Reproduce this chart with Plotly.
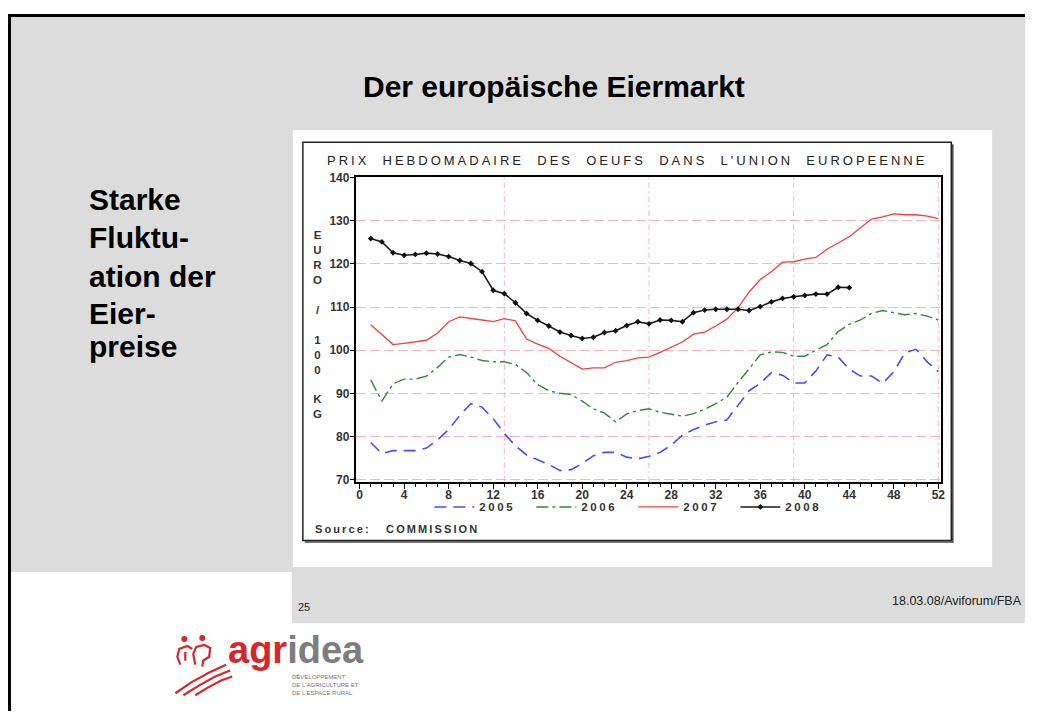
import plotly.graph_objects as go

# weekly egg prices, EUR / 100 kg
weeks = list(range(1, 53))
weeks_2008 = list(range(1, 45))

price_2005 = [78.6, 76.0, 76.7, 76.7, 76.7, 77.3, 79.2, 81.6, 84.9, 87.6,
              86.8, 84.1, 80.7, 77.8, 75.7, 74.6, 73.5, 72.1, 72.3, 73.7,
              75.5, 76.3, 76.3, 75.2, 74.8, 75.4, 76.3, 78.0, 80.3, 81.6,
              82.6, 83.4, 83.8, 87.2, 90.6, 92.3, 94.8, 94.2, 92.4, 92.4,
              95.2, 98.9, 98.4, 95.6, 94.0, 94.0, 92.3, 95.0, 99.4, 100.2,
              97.3, 95.0]
price_2006 = [93.1, 88.2, 92.2, 93.3, 93.3, 94.0, 96.0, 98.4, 99.0, 98.4,
              97.6, 97.3, 97.3, 96.7, 94.8, 92.0, 90.6, 90.0, 89.7, 88.2,
              86.4, 85.4, 83.4, 85.2, 86.0, 86.4, 85.6, 85.1, 84.7, 85.3,
              86.3, 87.6, 89.1, 92.5, 95.6, 98.9, 99.6, 99.5, 98.6, 98.6,
              100.0, 101.3, 104.3, 106.0, 107.0, 108.5, 109.2, 108.7, 108.2, 108.5,
              107.9, 107.0]
price_2007 = [105.9, 103.6, 101.3, 101.6, 101.9, 102.3, 104.0, 106.6, 107.7, 107.4,
              107.0, 106.6, 107.3, 106.8, 102.6, 101.4, 100.4, 98.6, 97.0, 95.6,
              95.9, 95.9, 97.2, 97.6, 98.2, 98.4, 99.5, 100.7, 101.9, 103.7,
              104.2, 105.6, 107.2, 109.8, 113.5, 116.4, 118.2, 120.4, 120.5, 121.1,
              121.5, 123.4, 124.9, 126.3, 128.4, 130.4, 130.9, 131.6, 131.4, 131.4,
              131.1, 130.5]
price_2008 = [125.9, 125.1, 122.6, 122.0, 122.2, 122.5, 122.3, 121.7, 120.8, 120.1,
              118.2, 113.9, 113.1, 111.0, 108.5, 106.9, 105.6, 104.2, 103.4, 102.7,
              103.0, 104.1, 104.5, 105.7, 106.6, 106.1, 107.0, 106.9, 106.6, 108.7,
              109.3, 109.5, 109.5, 109.5, 109.2, 110.1, 111.2, 112.0, 112.4, 112.7,
              113.0, 113.0, 114.6, 114.5]

quarter_weeks = [13, 26, 39, 52]
x_ticks = list(range(0, 53, 4))
y_ticks = list(range(70, 141, 10))

# the page has an 8px body margin; keep figure + margins inside the window
OFF = 8
W, H = 1037 - 2 * OFF, 723 - 2 * OFF
FONT = "Liberation Sans, Arial, sans-serif"
PINK = "#ffb3c0"


def fx(px):
    return (px - OFF) / W


def fy(py):
    return 1 - (py - OFF) / H


def spaced(text, gap=2):
    return f"<span style='letter-spacing:{gap}px'>{text}</span>"


fig = go.Figure()

fig.add_trace(go.Scatter(
    x=weeks, y=price_2005, name=spaced("2005", 2.6), mode="lines",
    line=dict(color="#4a4aff", width=1.6, dash="12px,7px")
))
fig.add_trace(go.Scatter(
    x=weeks, y=price_2006, name=spaced("2006", 2.6), mode="lines",
    line=dict(color="#2e8b35", width=1.4, dash="12px,4px,3px,4px")
))
fig.add_trace(go.Scatter(
    x=weeks, y=price_2007, name=spaced("2007", 2.6), mode="lines",
    line=dict(color="#ff3b3b", width=1.3)
))
fig.add_trace(go.Scatter(
    x=weeks_2008, y=price_2008, name=spaced("2008", 2.6), mode="lines+markers",
    line=dict(color="#1a1a1a", width=1.6),
    marker=dict(symbol="diamond", size=4.5, color="#111111")
))

shapes = [
    # grey slide background
    dict(type="rect", xref="paper", yref="paper", x0=fx(9), x1=1, y0=fy(574), y1=1,
         fillcolor="#dcdcdc", line_width=0, layer="below"),
    dict(type="rect", xref="paper", yref="paper", x0=fx(293), x1=1, y0=fy(626), y1=fy(574),
         fillcolor="#dcdcdc", line_width=0, layer="below"),
    # white picture area
    dict(type="rect", xref="paper", yref="paper", x0=fx(294), x1=fx(996), y0=fy(569), y1=fy(126),
         fillcolor="white", line_width=0, layer="below"),
    # chart frame with shadow
    dict(type="rect", xref="paper", yref="paper", x0=fx(304), x1=fx(955), y0=fy(542), y1=fy(138),
         line=dict(color="#222222", width=1.5), layer="below"),
    dict(type="line", xref="paper", yref="paper", x0=fx(956.5), x1=fx(956.5), y0=fy(140), y1=fy(544),
         line=dict(color="#444444", width=1.5), layer="below"),
    dict(type="line", xref="paper", yref="paper", x0=fx(306), x1=fx(957), y0=fy(543.5), y1=fy(543.5),
         line=dict(color="#444444", width=1.5), layer="below"),
    # slide border
    dict(type="line", xref="paper", yref="paper", x0=fx(9.5), x1=fx(9.5), y0=0, y1=1,
         line=dict(color="black", width=3)),
    dict(type="line", xref="paper", yref="paper", x0=fx(8), x1=1, y0=fy(9.5), y1=fy(9.5),
         line=dict(color="black", width=3)),
]

# quarter separators
for q in quarter_weeks:
    shapes.append(dict(type="line", xref="x", yref="y domain", x0=q, x1=q, y0=0, y1=1,
                       line=dict(color=PINK, width=1, dash="6px,3px,2px,3px"), layer="below"))

# agridea logo mark
RED = "#d7262b"


def path(points):
    return "M " + " L ".join(f"{fx(a):.5f},{fy(b):.5f}" for a, b in points)


logo_strokes = [
    [(176, 697), (192, 686), (210, 676), (227, 668)],
    [(184, 699), (200, 689), (216, 680), (231, 674)],
    [(196, 699), (209, 691), (222, 684), (233, 680)],
    [(181, 668), (178, 660), (180, 652), (188, 649), (193, 652)],
    [(196, 668), (194, 657), (197, 650), (205, 648), (211, 651), (210, 660), (204, 664), (203, 670)],
    [(186, 655), (186, 664)],
]
for pts in logo_strokes:
    shapes.append(dict(type="path", xref="paper", yref="paper", path=path(pts),
                       line=dict(color=RED, width=2.2)))
for cx, cy in [(185, 642), (203, 641)]:
    shapes.append(dict(type="circle", xref="paper", yref="paper",
                       x0=fx(cx - 3), x1=fx(cx + 3), y0=fy(cy + 3), y1=fy(cy - 3),
                       fillcolor=RED, line_width=0))

annotations = [
    dict(text="<b>Der europäische Eiermarkt</b>", x=fx(556), y=fy(82),
         font=dict(size=30, color="black")),
    dict(text=spaced("PRIX  HEBDOMADAIRE  DES  OEUFS  DANS  L'UNION  EUROPEENNE", 3.0),
         x=fx(629), y=fy(157), font=dict(size=13, color="#222222")),
    dict(text="<b>E<br>U<br>R<br>O<br> <br>/<br> <br>1<br>0<br>0<br> <br>K<br>G</b>",
         x=fx(312), y=fy(323), font=dict(size=11.5, color="#333333")),
    dict(text=spaced("<b>Source:   COMMISSION</b>", 2.1), x=fx(314), y=fy(530), xanchor="left",
         font=dict(size=11, color="#333333")),
    dict(text="25", x=fx(297), y=fy(610), xanchor="left", font=dict(size=11, color="#222222")),
    dict(text="18.03.08/Aviforum/FBA", x=fx(1028), y=fy(603), xanchor="right",
         font=dict(size=12.5, color="#222222")),
    dict(text=f"<b><span style='color:{RED}'>agr</span><span style='color:#7d7d7d'>idea</span></b>",
         x=fx(227), y=fy(667), xanchor="left", yanchor="bottom", yshift=-9,
         font=dict(size=38)),
    dict(text="DÉVELOPPEMENT<br>DE L'AGRICULTURE ET<br>DE L'ESPACE RURAL", x=fx(291), y=fy(689),
         xanchor="left", align="left", font=dict(size=6, color="#777777")),
]
side_lines = ["Starke", "Fluktu-", "ation der", "Eier-", "preise"]
side_y = [196, 235, 274, 312, 345]
for line_text, ly in zip(side_lines, side_y):
    annotations.append(dict(text=f"<b>{line_text}</b>", x=fx(87), y=fy(ly), xanchor="left",
                            font=dict(size=30, color="black")))

for a in annotations:
    a.setdefault("xref", "paper")
    a.setdefault("yref", "paper")
    a.setdefault("showarrow", False)
    a.setdefault("yanchor", "middle")

tickfont = dict(family=FONT, size=12, color="#333333", weight="bold")

fig.update_layout(
    width=W, height=H,
    margin=dict(l=0, r=0, t=0, b=0),
    paper_bgcolor="white",
    plot_bgcolor="white",
    font=dict(family=FONT),
    showlegend=True,
    legend=dict(orientation="h", x=fx(431), y=fy(508), xanchor="left", yanchor="middle",
                entrywidth=47, itemwidth=40, bgcolor="rgba(0,0,0,0)",
                font=dict(size=11.5, color="#333333", weight="bold"), tracegroupgap=0),
    xaxis=dict(
        domain=[fx(357), fx(945)], range=[-0.36, 52.27],
        tickmode="array", tickvals=x_ticks, ticks="outside", ticklen=5, tickwidth=1.2,
        tickcolor="black", tickfont=tickfont, ticklabelstandoff=-4,
        minor=dict(tickmode="linear", tick0=0, dtick=1, ticks="outside", ticklen=3,
                   tickcolor="black", showgrid=False),
        showgrid=False, zeroline=False,
        showline=True, linecolor="black", linewidth=1.5, mirror=True,
    ),
    yaxis=dict(
        domain=[fy(483), fy(173)], range=[69.37, 140.23],
        tickmode="array", tickvals=y_ticks, ticks="outside", ticklen=4, tickwidth=1.2,
        tickcolor="black", tickfont=tickfont, ticklabelstandoff=-2,
        showgrid=True, gridcolor=PINK, griddash="10px,4px", gridwidth=1,
        zeroline=False,
        showline=True, linecolor="black", linewidth=1.5, mirror=True,
    ),
    shapes=shapes,
    annotations=annotations,
)

fig.write_html("out.html")
